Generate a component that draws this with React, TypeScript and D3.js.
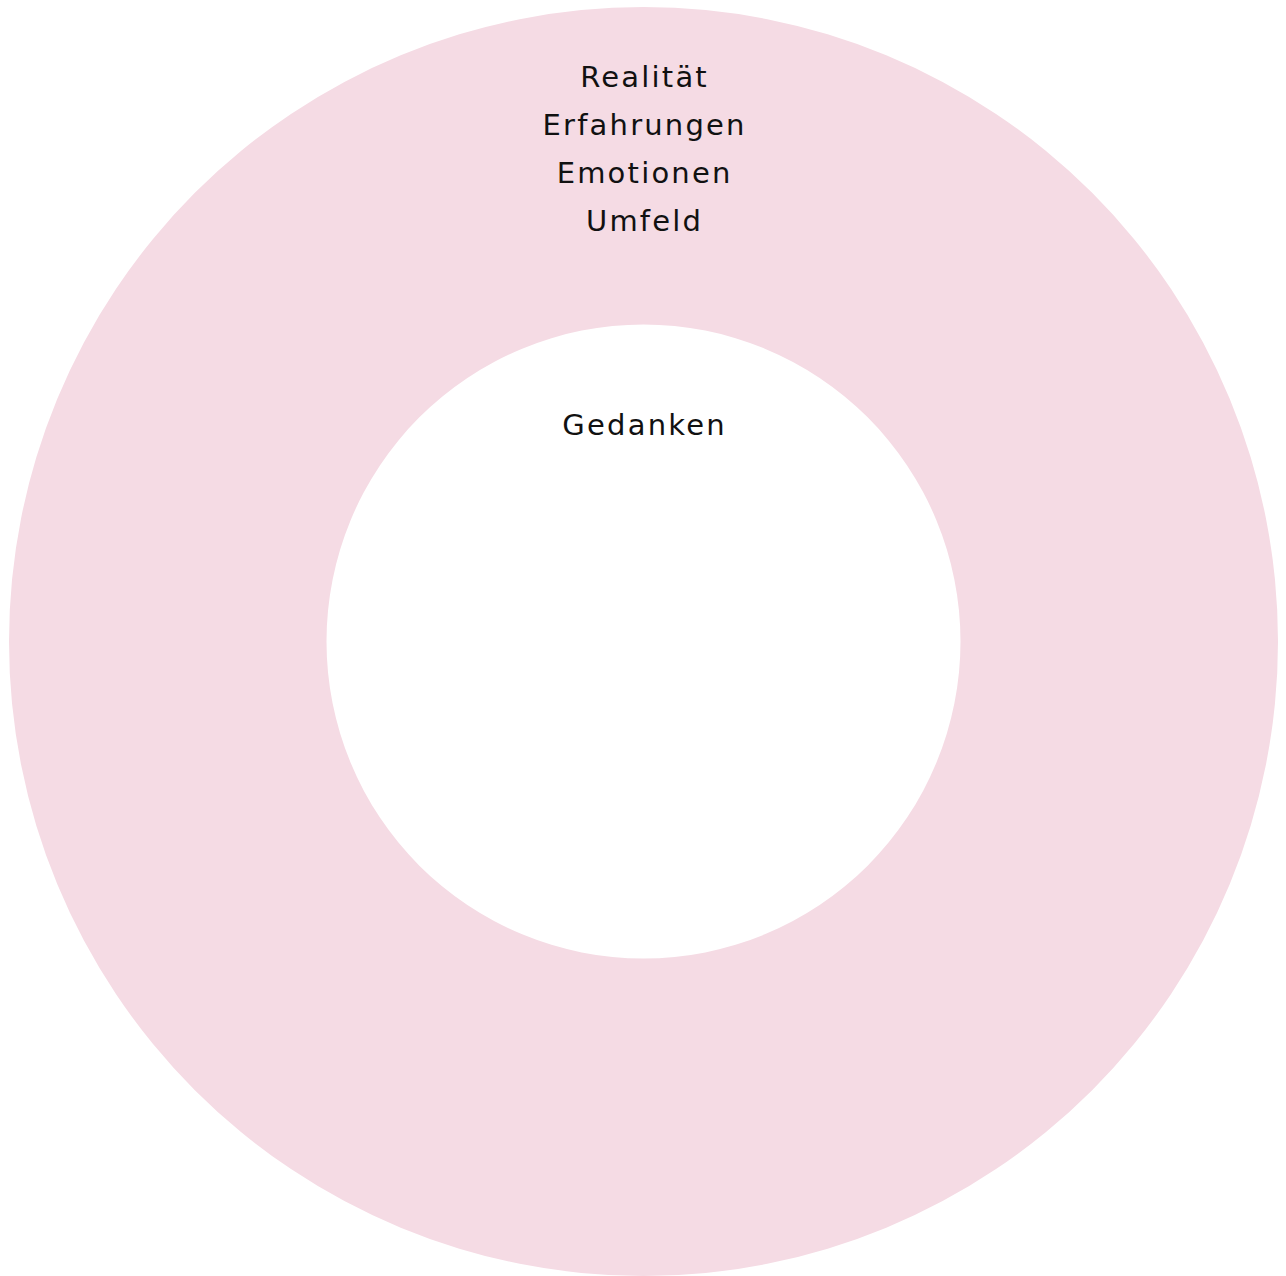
import React from "react";
import * as d3 from "d3";

const categories = ["Realität, Erfahrungen, Emotionen, Umfeld"];
const values = [100];
const outerLabelLines = ["Realität", "Erfahrungen", "Emotionen", "Umfeld"];
const centerLabel = "Gedanken";
const colors = ["#F5DBE4"];

export default function App() {
  const width = 1286;
  const height = 1276;
  const cx = 643.5;
  const cy = 641.5;
  const outerR = 634.5;
  const innerR = 317;
  const pie = d3.pie<number>().sort(null)(values);
  const arc = d3.arc<d3.PieArcDatum<number>>().innerRadius(innerR).outerRadius(outerR);
  const font = "'DejaVu Sans', sans-serif";
  const ls = 2.2;
  return (
    <svg width={width} height={height} style={{ position: "absolute", left: 0, top: 0 }}>
      <rect width={width} height={height} fill="#ffffff" />
      <g transform={`translate(${cx},${cy})`}>
        {pie.map((d, i) => (
          <path key={categories[i]} d={arc(d) || ""} fill={colors[i]} />
        ))}
      </g>
      {outerLabelLines.map((t, i) => (
        <text
          key={t}
          x={cx + ls / 2}
          y={86.5 + i * 48}
          textAnchor="middle"
          fontFamily={font}
          fontSize={29}
          letterSpacing={ls}
          fill="#111"
        >
          {t}
        </text>
      ))}
      <text
        x={cx + ls / 2}
        y={434.5}
        textAnchor="middle"
        fontFamily={font}
        fontSize={29}
        letterSpacing={ls}
        fill="#111"
      >
        {centerLabel}
      </text>
    </svg>
  );
}
